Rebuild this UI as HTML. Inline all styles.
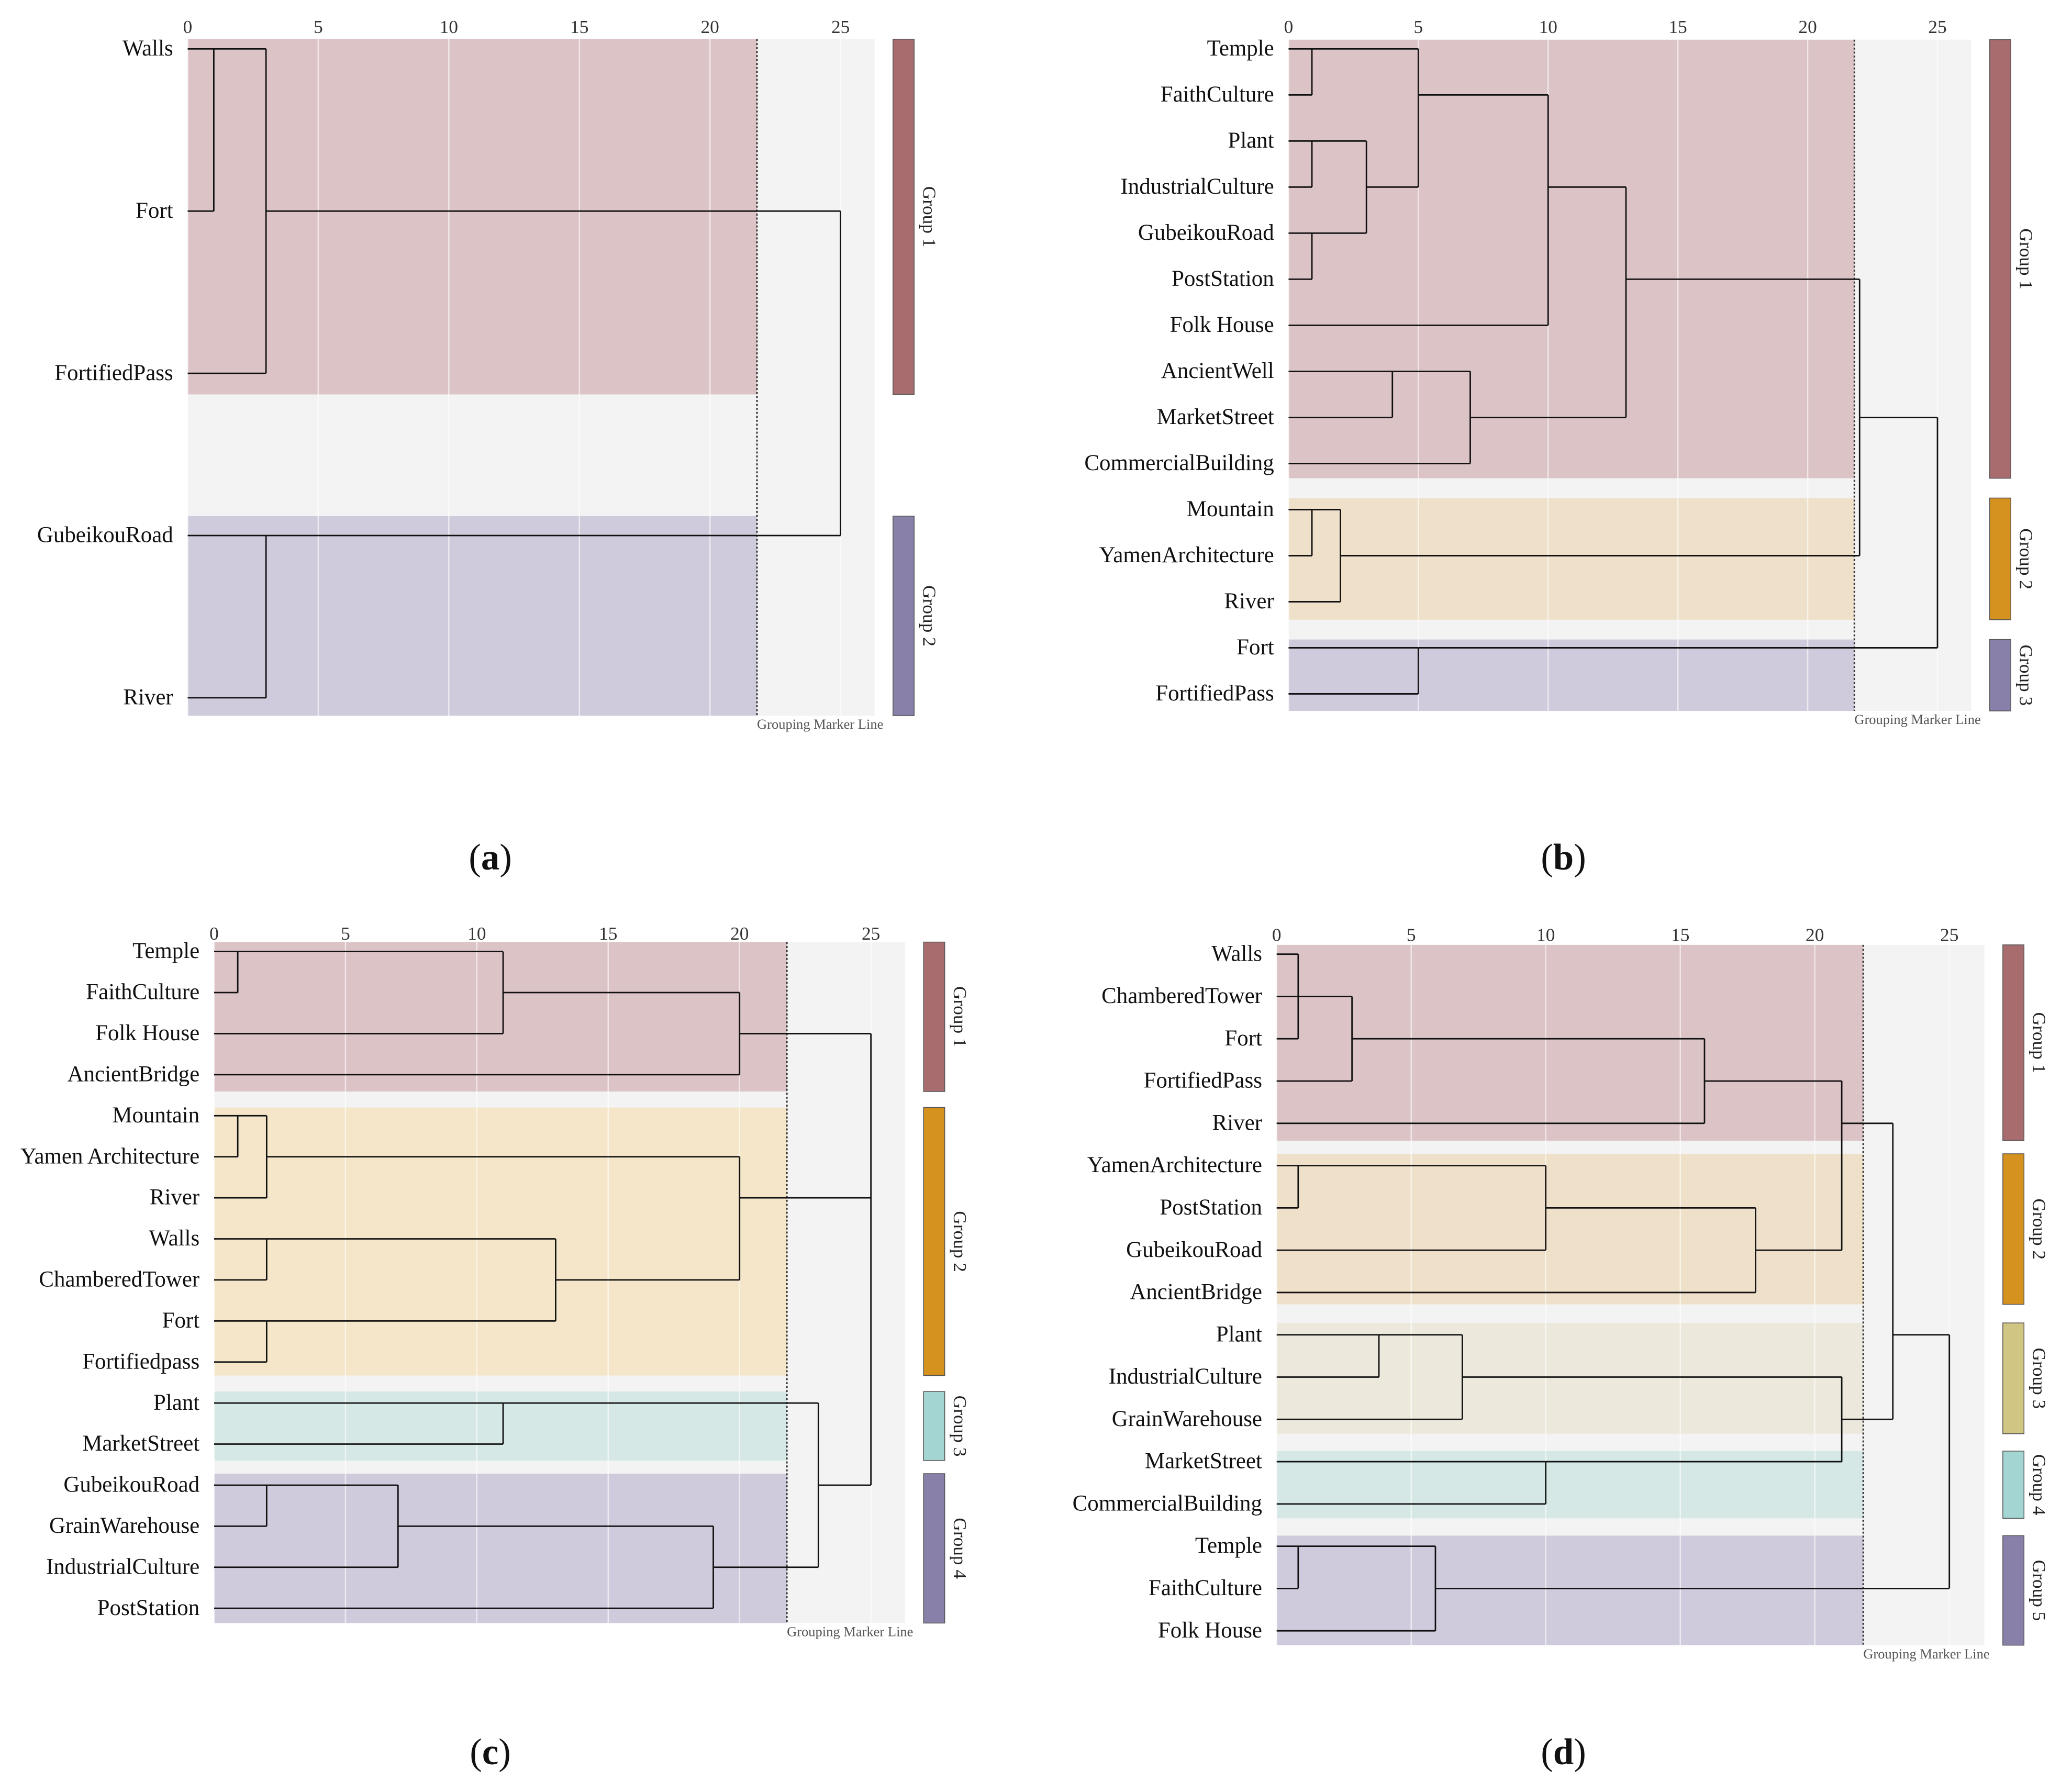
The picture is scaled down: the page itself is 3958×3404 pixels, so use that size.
<!DOCTYPE html>
<html><head><meta charset="utf-8"><style>
html,body{margin:0;padding:0;background:#fff;}
svg{display:block;}
svg text{font-family:"Liberation Serif","DejaVu Serif",serif;}
</style></head><body>
<svg id="fig" width="3958" height="3404" viewBox="0 0 1567.8 1348.4" preserveAspectRatio="none" xmlns="http://www.w3.org/2000/svg" font-family="Liberation Serif, serif">
</svg>
<script>
// ---------- Panel (a) data ----------
const aLeaves = ["Walls","Fort","FortifiedPass","GubeikouRoad","River"];
// merges: [childA, childB, height, nodePosition(leaf units)]; children: leaf idx or "n#"
const aMerges = [[0,1,1,0],["n0",2,3,1],[3,4,3,3],["n1","n2",25,2]];
const aBands = [[-0.06,2.13],[2.88,4.11]];
const aGroups = ["Group 1","Group 2"];
const aTicks = [0,5,10,15,20,25];
const aThreshold = 21.8;

// ---------- Panel (b) data ----------
const bLeaves = ["Temple","FaithCulture","Plant","IndustrialCulture","GubeikouRoad","PostStation","Folk House","AncientWell","MarketStreet","CommercialBuilding","Mountain","YamenArchitecture","River","Fort","FortifiedPass"];
const bMerges = [[0,1,0.9,0],[2,3,0.9,2],[4,5,0.9,4],["n1","n2",3,3],["n0","n3",5,1],["n4",6,10,3],[7,8,4,7],["n6",9,7,8],["n5","n7",13,5],[10,11,0.9,10],["n9",12,2,11],["n8","n10",22,8],[13,14,5,13],["n11","n12",25,10.5]];
const bBands = [[-0.2,9.32],[9.75,12.39],[12.82,14.37]];
const bGroups = ["Group 1","Group 2","Group 3"];
const bTicks = [0,5,10,15,20,25];
const bThreshold = 21.8;

// ---------- Panel (c) data ----------
const cLeaves = ["Temple","FaithCulture","Folk House","AncientBridge","Mountain","Yamen Architecture","River","Walls","ChamberedTower","Fort","Fortifiedpass","Plant","MarketStreet","GubeikouRoad","GrainWarehouse","IndustrialCulture","PostStation"];
const cMerges = [[0,1,0.9,0],["n0",2,11,1],["n1",3,20,2],[4,5,0.9,4],["n3",6,2,5],[7,8,2,7],[9,10,2,9],["n5","n6",13,8],["n4","n7",20,6],["n2","n8",25,6],[11,12,11,11],[13,14,2,13],["n11",15,7,14],["n12",16,19,15],["n10","n13",23,13],["n9","n14",25,9]];
const cBands = [[-0.23,3.41],[3.8,10.33],[10.72,12.4],[12.72,16.36]];
const cGroups = ["Group 1","Group 2","Group 3","Group 4"];
const cTicks = [0,5,10,15,20,25];
const cThreshold = 21.8;

// ---------- Panel (d) data ----------
const dLeaves = ["Walls","ChamberedTower","Fort","FortifiedPass","River","YamenArchitecture","PostStation","GubeikouRoad","AncientBridge","Plant","IndustrialCulture","GrainWarehouse","MarketStreet","CommercialBuilding","Temple","FaithCulture","Folk House"];
const dMerges = [[0,1,0.8,1],["n0",2,0.8,1],["n1",3,2.8,2],["n2",4,15.9,3],[5,6,0.8,5],["n4",7,10,6],["n5",8,17.8,7],["n3","n6",21,4],[9,10,3.8,9],["n8",11,6.9,10],[12,13,10,12],["n9","n10",21,11],["n7","n11",22.9,9],[14,15,0.8,14],["n13",16,5.9,15],["n12","n14",25,12]];
const dBands = [[-0.22,4.41],[4.72,8.28],[8.72,11.34],[11.75,13.34],[13.75,16.34]];
const dGroups = ["Group 1","Group 2","Group 3","Group 4","Group 5"];
const dTicks = [0,5,10,15,20,25];
const dThreshold = 21.8;

const NS="http://www.w3.org/2000/svg";
const svg=document.getElementById('fig');
const FONT='Liberation Serif, DejaVu Serif, serif';
function mk(tag,attrs,parent){const e=document.createElementNS(NS,tag);for(const k in attrs)e.setAttribute(k,attrs[k]);if(tag==='text')e.setAttribute('font-family',FONT);(parent||svg).appendChild(e);return e;}

const BAND_FILL={"2":["#dbc3c6","#cfcbdc"],"3":["#dbc3c6","#efe0c9","#cfcbdc"],"4":["#dbc3c6","#f5e6c9","#d5e8e6","#cfcbdc"],"5":["#dbc3c6","#efe0c9","#ece8dc","#d5e8e6","#cfcbdc"]};
const BAR_FILL={"2":["#a86c6f","#8980aa"],"3":["#a86c6f","#d6921e","#8980aa"],"4":["#a86c6f","#d6921e","#a3d6d2","#8980aa"],"5":["#a86c6f","#d6921e","#d1c584","#a3d6d2","#8980aa"]};

function panel(id,L,leaves,merges,bands,groups,ticks,thr,caption){
  const g=mk('g',{});
  
  
  const x=v=>L.x0+v*L.pu;
  const y=p=>L.y0+p*L.step;
  const n=String(groups.length);
  const bg=mk('rect',{x:x(0),y:y(bands[0][0]),width:x(26.3)-x(0),height:y(bands[bands.length-1][1])-y(bands[0][0]),fill:'#f3f3f3'},g);
  
  
  bands.forEach((b,i)=>{
    const r=mk('rect',{x:x(0),y:y(b[0]),width:x(thr)-x(0),height:y(b[1])-y(b[0]),fill:BAND_FILL[n][i]},g);
    
    
  });
  ticks.forEach(t=>{
    const l=mk('line',{x1:x(t),x2:x(t),y1:y(bands[0][0]),y2:y(bands[bands.length-1][1]),stroke:'#ffffff','stroke-opacity':0.6,'stroke-width':1},g);
    
    
    const tx=mk('text',{x:x(t),y:L.tickY,'text-anchor':'middle','font-size':14,fill:'#333'},g);
    tx.textContent=t;
    
    
  });
  const th=mk('line',{x1:x(thr),x2:x(thr),y1:y(bands[0][0]),y2:y(bands[bands.length-1][1]),stroke:'#333','stroke-width':1.2,'stroke-dasharray':'1.5,1.5'},g);
  
  
  const tt=mk('text',{x:x(thr),y:y(bands[bands.length-1][1])+10,'font-size':10.5,fill:'#555'},g);
  tt.textContent='Grouping Marker Line';
  
  
  leaves.forEach((lb,i)=>{
    const t=mk('text',{x:x(0)-11,y:y(i)+5,'text-anchor':'end','font-size':17,fill:'#111'},g);
    t.textContent=lb;
    
    
  });
  const parentH={};
  merges.forEach(m=>{parentH[String(m[0])]=m[2];parentH[String(m[1])]=m[2];});
  const nodeH={},nodeP={};
  leaves.forEach((_,i)=>{nodeH[String(i)]=0;nodeP[String(i)]=i;});
  merges.forEach((m,k)=>{nodeH['n'+k]=m[2];nodeP['n'+k]=m[3];});
  const seg=(x1,y1,x2,y2)=>{const l=mk('line',{x1,y1,x2,y2,stroke:'#111','stroke-width':1.1},g);
    
    };
  Object.keys(nodeH).forEach(k=>{
    if(parentH[k]!==undefined) seg(x(nodeH[k]),y(nodeP[k]),x(parentH[k]),y(nodeP[k]));
  });
  merges.forEach(m=>{
    seg(x(m[2]),y(nodeP[String(m[0])]),x(m[2]),y(nodeP[String(m[1])]));
  });
  const bx=x(26.3)+14;
  bands.forEach((b,i)=>{
    const r=mk('rect',{x:bx,y:y(b[0]),width:16,height:y(b[1])-y(b[0]),fill:BAR_FILL[n][i],stroke:'#555','stroke-width':0.6},g);
    
    
    const cy=(y(b[0])+y(b[1]))/2;
    const t=mk('text',{x:bx+26,y:cy,'text-anchor':'middle','font-size':14,fill:'#222',transform:`rotate(90 ${bx+26} ${cy})`,'dominant-baseline':'middle'},g);
    t.textContent=groups[i];
    
    
  });
  const c=mk('text',{x:L.capX,y:L.capY,'text-anchor':'middle','font-size':28,fill:'#111'},g);
  c.innerHTML='(<tspan font-weight="bold">'+caption+'</tspan>)';
  
  
}
panel('a',{x0:142,pu:19.76,y0:37,step:122.75,tickY:25,capX:371,capY:658},aLeaves,aMerges,aBands,aGroups,aTicks,aThreshold,'a');
panel('b',{x0:975,pu:19.64,y0:37,step:34.86,tickY:25,capX:1183,capY:658},bLeaves,bMerges,bBands,bGroups,bTicks,bThreshold,'b');
panel('c',{x0:162,pu:19.88,y0:720,step:31.06,tickY:711,capX:371,capY:1335},cLeaves,cMerges,cBands,cGroups,cTicks,cThreshold,'c');
panel('d',{x0:966,pu:20.36,y0:722,step:32.0,tickY:712,capX:1183,capY:1335},dLeaves,dMerges,dBands,dGroups,dTicks,dThreshold,'d');
</script>
</body></html>
